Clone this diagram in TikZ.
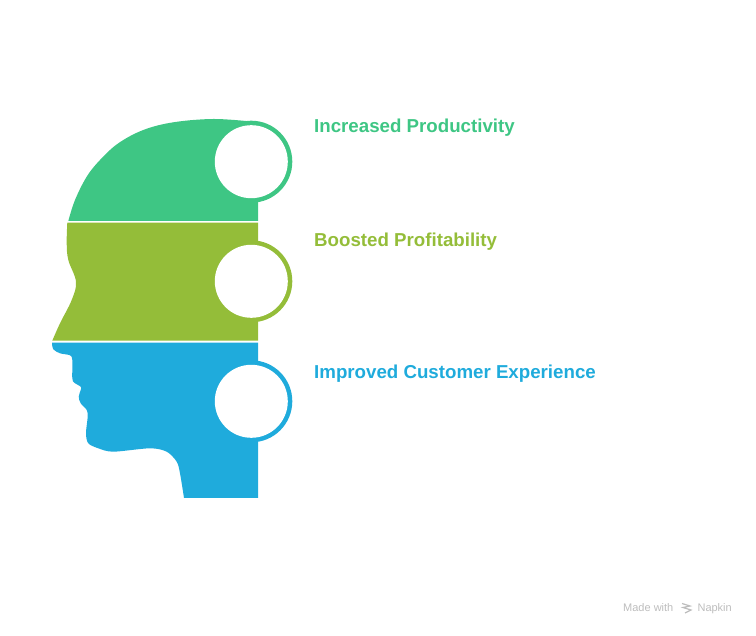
\documentclass[tikz,border=0pt]{standalone}
\usepackage{fontspec}
\setmainfont{Liberation Sans}
\definecolor{verde}{HTML}{3EC684}
\definecolor{oliva}{HTML}{94BD39}
\definecolor{azzurro}{HTML}{1FABDC}
\definecolor{grigio}{HTML}{BDBDBD}
\tikzset{
  hole/.style={circle, fill=white, minimum size=73pt, inner sep=0pt},
  ring/.style={circle, minimum size=82pt, inner sep=0pt},
  etichetta/.style={anchor=west, inner sep=0pt, font=\fontsize{18.7}{22}\selectfont\bfseries},
  firma/.style={inner sep=0pt, text=grigio, font=\fontsize{11}{13}\selectfont}
}
\begin{document}
\begin{tikzpicture}[x=1pt,y=-1pt]
  \useasboundingbox (0,0) rectangle (756,636);
  % Blocco superiore
  \fill[verde] (258,221) -- (68.3,221)
    -- plot[smooth, tension=0.6] coordinates {(68.3,221) (75,200) (86.7,176.7) (100,160) (118.3,143.3) (143.3,130) (173.3,122.3) (213.3,119) (251,121.5)}
    -- (258,160) -- cycle;
  \node[ring, fill=verde] (ringa) at (251.3,161.7) {};
  \node[hole] (holea) at (ringa) {};
  % Blocco centrale
  \fill[oliva] (258,222.7) -- (67.3,222.7)
    -- plot[smooth, tension=0.6] coordinates {(67.3,222.7) (66.7,243) (68.3,260) (76,281.7) (71.7,300) (60,323.3) (52.3,340.7)}
    -- (258,340.7) -- cycle;
  \node[ring, fill=oliva] (ringb) at (251.3,281.3) {};
  \node[hole] (holeb) at (ringb) {};
  % Blocco inferiore
  \fill[azzurro] (258,342.7) -- (52,342.7)
    -- plot[smooth, tension=0.5] coordinates {(52,342.7) (53.3,349.3) (60,353.3) (70,355.3) (72.3,360) (72.3,378.3) (74.3,382.7) (80.7,386.7) (80.7,390) (78.7,396.7) (80.7,403.3) (86.7,410) (87.7,416.7) (86,433.3) (88.3,443.3) (98.3,448.3) (113.3,451.7) (150,448.3) (166.7,451.7) (176.7,461.7) (180,473.3) (184,498)}
    -- (258,498) -- cycle;
  \node[ring, fill=azzurro] (ringc) at (251.3,401.3) {};
  \node[hole] (holec) at (ringc) {};
  % Etichette
  \node[etichetta, text=verde] (labela) at (314,128) {Increased Productivity};
  \node[etichetta, text=oliva] (labelb) at (314,242) {Boosted Profitability};
  \node[etichetta, text=azzurro] (labelc) at (314,374) {Improved Customer Experience};
  % Firma
  \node[firma, anchor=base west] (made) at (623,612) {Made with};
  \node[firma, anchor=base east] (napkin) at (732,612) {Napkin};
  \draw[grigio, line width=1.2pt] (682,603.5) -- (690,606) -- (683,607.5) -- (691,610) -- (685,613);
\end{tikzpicture}
\end{document}
